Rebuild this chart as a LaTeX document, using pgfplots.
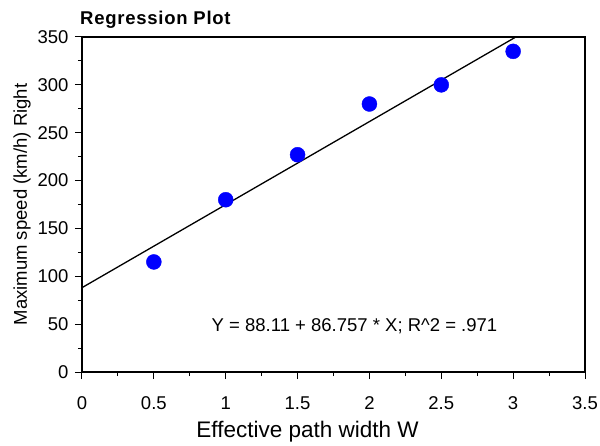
\documentclass[border=0pt]{standalone}
\usepackage{fontspec}
\setmainfont{Liberation Sans}
\usepackage{pgfplots}
\pgfplotsset{compat=1.18}
\begin{document}
\begin{tikzpicture}
\begin{axis}[
  scale only axis, width=503bp, height=335bp,
  xmin=0, xmax=3.5, ymin=0, ymax=350,
  xtick={0,0.5,...,3.5}, ytick={0,50,...,350},
  minor x tick num=1, minor y tick num=1,
  tick align=outside, tick pos=left,
  major tick length=7bp, minor tick length=4bp,
  tick style={black, line width=1bp},
  axis line style={line width=1.2bp},
  ticklabel style={font=\fontsize{18.5bp}{22bp}\selectfont},
  xticklabel style={yshift=-14bp},
  yticklabel style={xshift=-3bp},
  /pgf/number format/assume math mode=true,
  xlabel={Effective path width W},
  ylabel={Maximum speed (km/h) Right},
  xlabel style={font=\fontsize{22.5bp}{26bp}\selectfont, xshift=-26bp, yshift=-5bp},
  ylabel style={font=\fontsize{18.5bp}{22bp}\selectfont},
  clip=false,
]
% regression line, Y = 88.11 + 86.757 X, cut at the top of the axis
\addplot[black, line width=1.3bp] coordinates {(0,88.11) (3.0187,350)};
\addplot[only marks, mark=*, mark size=7.5bp, color=blue, mark options={fill=blue, draw=blue}]
  coordinates {(0.5,115) (1,180) (1.5,227) (2,280) (2.5,300) (3,335)};
\draw[line width=2bp] (rel axis cs:0,1) -- (rel axis cs:0,0) -- (rel axis cs:1,0);
\node[font=\fontsize{18.5bp}{22bp}\selectfont] at (axis cs:1.896,48) {Y = 88.11 + 86.757 * X; R\textasciicircum 2 = .971};
\node[anchor=base west, font=\bfseries\fontsize{18.5bp}{22bp}\selectfont\addfontfeature{LetterSpace=4}, inner sep=0pt]
  at ([xshift=-2bp,yshift=12bp]rel axis cs:0,1) {Regression Plot};
\coordinate (bl) at (rel axis cs:0,0);
\coordinate (tr) at (rel axis cs:1,1);
\end{axis}
\pgfresetboundingbox
\path[use as bounding box] ([xshift=-82bp,yshift=-74bp]bl) rectangle ([xshift=15bp,yshift=37bp]tr);
\end{tikzpicture}
\end{document}
